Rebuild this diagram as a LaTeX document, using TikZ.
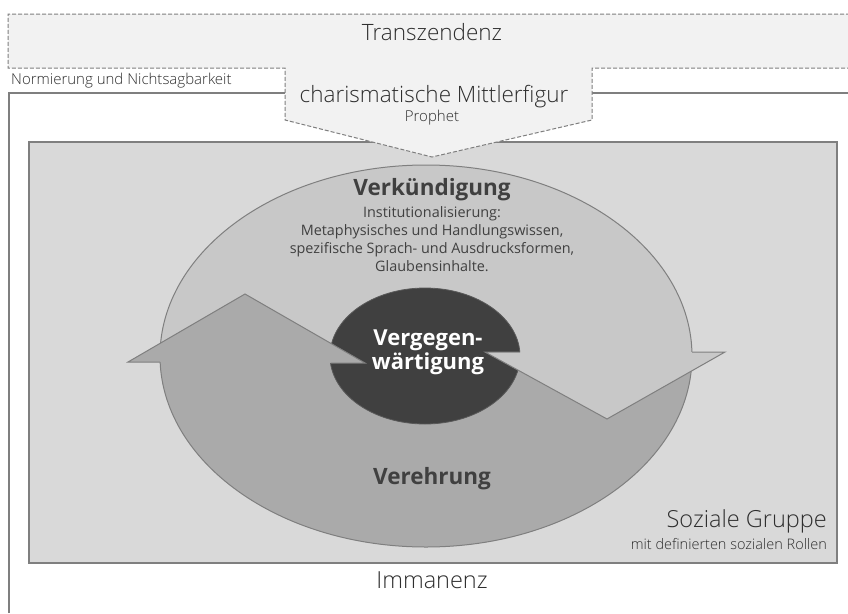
\documentclass[tikz,border=0pt]{standalone}
\usepackage{fontspec}
\setmainfont{Open Sans}
\newfontfamily\lightfont{Open Sans Light}
\definecolor{bandfill}{HTML}{F2F2F2}
\definecolor{linegrey}{HTML}{7F7F7F}
\definecolor{groupfill}{HTML}{D9D9D9}
\definecolor{lightpart}{HTML}{C8C8C8}
\definecolor{darkpart}{HTML}{AAAAAA}
\definecolor{corefill}{HTML}{404040}
\definecolor{txt}{HTML}{404040}
\definecolor{lighttxt}{HTML}{2E2E2E}
\tikzset{
  plaintext/.style={font=\fontsize{#1}{#1}\selectfont, text=txt, inner sep=0pt},
  lighttext/.style={font=\lightfont\fontsize{#1}{#1}\selectfont, text=lighttxt, inner sep=0pt},
  boldtext/.style={font=\bfseries\fontsize{#1}{#1}\selectfont, text=txt, inner sep=0pt},
  outline/.style={draw=linegrey, line width=1pt, line join=miter},
}
\begin{document}
\begin{tikzpicture}[x=1pt,y=-1pt]
\useasboundingbox (0,0) rectangle (848,613);
\fill[white] (0,0) rectangle (848,613);
% Immanenz frame
\draw[linegrey, line width=1.6pt] (9,613) -- (9,93) -- (848,93);
% Soziale Gruppe
\draw[fill=groupfill, draw=linegrey, line width=1.6pt] (29,142) rectangle (837,563);
% Transzendenz band with pentagon
\fill[bandfill] (8,14) -- (850,14) -- (850,68) -- (592,68) -- (592,120) -- (432,157) -- (285,120) -- (285,68) -- (8,68) -- cycle;
\draw[linegrey, line width=1pt, dash pattern=on 4pt off 2pt] (850,14) -- (8,14) -- (8,68) -- (285,68) -- (285,120) -- (432,157) -- (592,120) -- (592,68) -- (850,68);
% big ellipse
\fill[lightpart] (426,356) ellipse [x radius=266, y radius=191];
\begin{scope}
  \clip (426,356) ellipse [x radius=266, y radius=191];
  \fill[darkpart] (100,362) -- (128,362) -- (245,294) -- (365,363) -- (485,352) -- (607,419) -- (725,352) -- (725,600) -- (100,600) -- cycle;
\end{scope}
\draw[outline] (426,356) ellipse [x radius=266, y radius=191];
% centre
\fill[corefill] (425,356) ellipse [x radius=95, y radius=68];
\draw[draw=linegrey!70!black, line width=0.8pt] (425,356) ellipse [x radius=95, y radius=68];
% left arrow head (Verehrung)
\fill[darkpart] (128,362) -- (245,294) -- (365,363) -- cycle;
\draw[outline] (160,362) -- (128,362) -- (245,294) -- (365,363) -- (330.5,363);
% right arrow head (Verkuendigung)
\fill[lightpart] (485,352) -- (607,419) -- (725,352) -- cycle;
\draw[outline] (520,352) -- (485,352) -- (607,419) -- (725,352) -- (692,352);
% texts
\node[lighttext=22.5] (transz) at (432,32) {Transzendenz};
\node[lighttext=22.5] (mittler) at (434,97) {charismatische Mittlerfigur};
\node[lighttext=15] (prophet) at (432,118) {Prophet};
\node[lighttext=15, anchor=west] (norm) at (11,81) {Normierung und Nichtsagbarkeit};
\node[lighttext=23.5, anchor=east] (sozial) at (827,521) {Soziale Gruppe};
\node[lighttext=14.5, anchor=east] (rollen) at (827,544) {mit definierten sozialen Rollen};
\node[lighttext=23.5] (imman) at (432,580) {Immanenz};
\node[boldtext=22.5] (verk) at (432,190) {Verkündigung};
\node[font=\fontsize{14.4}{18}\selectfont, text=txt, inner sep=0pt, align=center] (instit) at (432,239) {Institutionalisierung:\\Metaphysisches und Handlungswissen,\\spezifische Sprach- und Ausdrucksformen,\\Glaubensinhalte.};
\node[font=\bfseries\fontsize{22}{24}\selectfont, text=white, inner sep=0pt, align=center] (verg) at (428,352) {Vergegen-\\wärtigung};
\node[boldtext=22.5] (vereh) at (432,479) {Verehrung};
\end{tikzpicture}
\end{document}
